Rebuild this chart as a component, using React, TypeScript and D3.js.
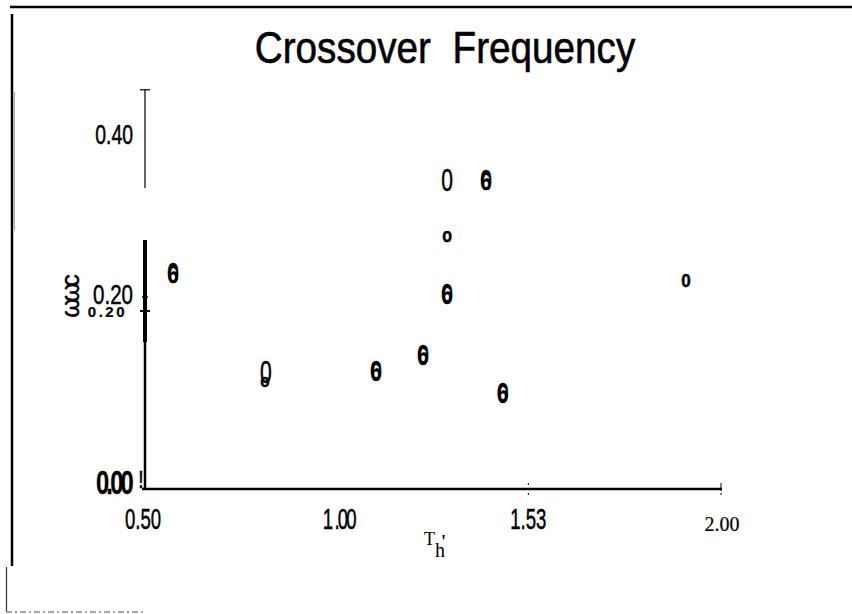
import React, { useEffect, useRef } from "react";
import * as d3 from "d3";

const WIDTH = 852;
const HEIGHT = 614;

// points (Th', omega_c)
const pointTh = [0.578, 0.819, 1.105, 1.227, 1.289, 1.39, 1.289, 1.289, 1.434, 1.909];
const pointWc = [0.243, 0.13, 0.133, 0.151, 0.348, 0.348, 0.285, 0.22, 0.108, 0.235];
const pointGlyph = ["theta", "zeroDot", "theta", "theta", "zero", "theta", "dot", "theta", "theta", "dotBig"];

const xTickValues = [0.5, 1.0, 1.5, 2.0];
const xTickLabels = ["0.50", "1 .00", "1.53", "2.00"];
const yTickValues = [0.0, 0.2, 0.4];
const yTickLabels = ["0.00", "0.20", "0.40"];

const SANS = "'Liberation Sans', Arial, sans-serif";
const SERIF = "'Liberation Serif', 'DejaVu Serif', serif";

type Opt = {
  size: number;
  sx?: number;
  bold?: boolean;
  family?: string;
  anchor?: string;
  ls?: number;
  heavy?: number;
};

export default function App() {
  const ref = useRef<SVGSVGElement | null>(null);

  useEffect(() => {
    const svg = d3.select(ref.current);
    svg.selectAll("*").remove();

    const x = d3.scaleLinear().domain([0.5, 2.0]).range([143, 721]);
    const y = d3.scaleLinear().domain([0, 0.2]).range([488, 311]);

    // condensed text: squeeze horizontally around the anchor point
    const label = (parent: any, px: number, py: number, s: string, o: Opt) => {
      const g = parent.append("g").attr("transform", `translate(${px},${py}) scale(${o.sx ?? 1},1)`);
      return g.append("text")
        .attr("dy", "0.36em")
        .attr("text-anchor", o.anchor ?? "middle")
        .attr("font-family", o.family ?? SANS)
        .attr("font-size", o.size)
        .attr("font-weight", o.bold ? "bold" : "normal")
        .attr("letter-spacing", o.ls ?? 0)
        .attr("stroke", "#000")
        .attr("stroke-width", o.heavy ?? 0.5)
        .style("white-space", "pre")
        .text(s);
    };

    // scan frame
    svg.append("line").attr("x1", 10).attr("x2", WIDTH).attr("y1", 7).attr("y2", 7)
      .attr("stroke", "#000").attr("stroke-width", 2.5);
    svg.append("line").attr("x1", 12).attr("x2", 12).attr("y1", 14).attr("y2", 566)
      .attr("stroke", "#000").attr("stroke-width", 2.5);
    svg.append("line").attr("x1", 14.5).attr("x2", 14.5).attr("y1", 92).attr("y2", 230)
      .attr("stroke", "#aaa").attr("stroke-width", 1);
    svg.append("line").attr("x1", 6.5).attr("x2", 6.5).attr("y1", 567).attr("y2", 612)
      .attr("stroke", "#333").attr("stroke-width", 1.2);
    svg.append("line").attr("x1", 6).attr("x2", 145).attr("y1", 612).attr("y2", 612)
      .attr("stroke", "#888").attr("stroke-width", 1.5).attr("stroke-dasharray", "6 3 2 3");

    // title
    label(svg, 445, 47, "Crossover  Frequency", { size: 45, sx: 0.86, heavy: 0.6 });

    // y axis, broken in two pieces
    const yAxisX = 145;
    svg.append("line").attr("x1", yAxisX).attr("x2", yAxisX).attr("y1", y(0)).attr("y2", 240)
      .attr("stroke", "#000").attr("stroke-width", 2.5);
    svg.append("line").attr("x1", yAxisX).attr("x2", yAxisX).attr("y1", 240).attr("y2", 342)
      .attr("stroke", "#000").attr("stroke-width", 4);
    svg.append("line").attr("x1", yAxisX).attr("x2", yAxisX).attr("y1", y(0.45)).attr("y2", 188)
      .attr("stroke", "#000").attr("stroke-width", 1.2);
    svg.append("line").attr("x1", yAxisX - 5).attr("x2", yAxisX + 5).attr("y1", y(0.45)).attr("y2", y(0.45))
      .attr("stroke", "#000").attr("stroke-width", 1.2);

    // y ticks and labels
    yTickValues.forEach((v, i) => {
      const yy = y(v);
      if (v === 0.2) {
        svg.append("line").attr("x1", yAxisX - 5).attr("x2", yAxisX + 5).attr("y1", yy).attr("y2", yy)
          .attr("stroke", "#000").attr("stroke-width", 2);
        svg.append("line").attr("x1", yAxisX - 3).attr("x2", yAxisX + 3).attr("y1", yy - 14).attr("y2", yy - 14)
          .attr("stroke", "#000").attr("stroke-width", 1.5);
        label(svg, 133, yy - 17, yTickLabels[i], { size: 27, sx: 0.76, anchor: "end" });
        label(svg, 127, yy + 1, yTickLabels[i], { size: 15, bold: true, anchor: "end", ls: 2.5, heavy: 0.2 });
      } else if (v === 0) {
        label(svg, 131, yy - 6, yTickLabels[i], { size: 34, sx: 0.7, anchor: "end", ls: -4, heavy: 0.3, bold: true });
        label(svg, 141, yy - 9, "!", { size: 24, sx: 0.8 });
      } else {
        label(svg, 133, yy, yTickLabels[i], { size: 27, sx: 0.72, anchor: "end" });
      }
    });

    // y label (rotated)
    svg.append("g")
      .attr("transform", "translate(70, 298) rotate(-90)")
      .append("text")
      .attr("dy", "0.36em")
      .attr("text-anchor", "middle")
      .attr("font-family", SANS)
      .attr("font-size", 25)
      .attr("letter-spacing", -4)
      .attr("stroke", "#000")
      .attr("stroke-width", 0.5)
      .text("ωωc");

    // x axis
    svg.append("line").attr("x1", x(0.5) - 1).attr("x2", x(2.0) + 1).attr("y1", 489).attr("y2", 489)
      .attr("stroke", "#000").attr("stroke-width", 2.5);
    xTickValues.forEach((v, i) => {
      const xx = x(v);
      if (v === 1.5 || v === 2.0) {
        svg.append("line").attr("x1", xx).attr("x2", xx).attr("y1", 483).attr("y2", 495)
          .attr("stroke", "#000").attr("stroke-width", 1).attr("stroke-dasharray", v === 2 ? "8 2 2" : "2 3");
      }
      const last = i === xTickValues.length - 1;
      if (last) {
        label(svg, xx + 1, 524, xTickLabels[i], { size: 20, family: SERIF, heavy: 0.2 });
      } else {
        label(svg, v === 1 ? xx + 3 : xx, 518, xTickLabels[i], { size: 30, sx: 0.62, ls: v === 1 ? -3 : 0 });
      }
    });

    // x label Th'
    const xl = svg.append("text")
      .attr("x", 424).attr("y", 545)
      .attr("font-family", SERIF)
      .attr("font-size", 18);
    xl.append("tspan").text("T");
    xl.append("tspan").attr("dy", 12).attr("font-size", 20).text("h");
    xl.append("tspan").attr("dy", -9).attr("dx", -4).attr("font-weight", "bold").text("'");

    // points
    const g = svg.append("g");
    pointTh.forEach((t, i) => {
      const px = x(t);
      const py = y(pointWc[i]);
      const kind = pointGlyph[i];
      if (kind === "theta") {
        label(g, px, py, "0", { size: 29, sx: 0.72 });
        label(g, px, py + 1, "6", { size: 25, sx: 0.8, bold: true, heavy: 0.3 });
      } else if (kind === "zero") {
        label(g, px, py, "0", { size: 31, sx: 0.68 });
      } else if (kind === "zeroDot") {
        label(g, px, py - 1, "0", { size: 31, sx: 0.68 });
        label(g, px - 1, py + 8, "o", { size: 18, sx: 0.85, bold: true });
      } else if (kind === "dot") {
        label(g, px, py - 1, "o", { size: 20, sx: 0.8, bold: true });
      } else {
        label(g, px, py, "0", { size: 19, sx: 0.9, bold: true });
      }
    });
  }, []);

  return (
    <svg
      ref={ref}
      width={WIDTH}
      height={HEIGHT}
      style={{ position: "absolute", left: 0, top: 0, background: "#fff" }}
    />
  );
}
